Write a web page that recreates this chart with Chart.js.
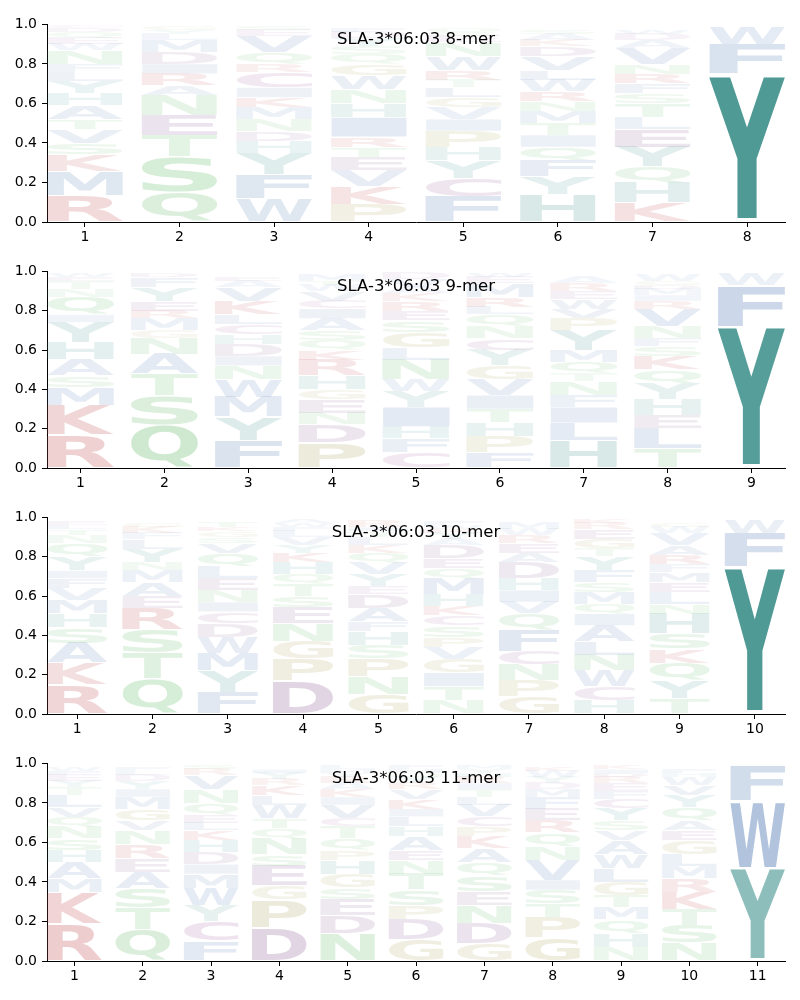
<!DOCTYPE html>
<html>
<head>
<meta charset="utf-8">
<script src="https://cdn.jsdelivr.net/npm/chart.js@4.4.1/dist/chart.umd.min.js"></script>
<style>
  body { margin: 0; background: #fff; }
  .panel { position: absolute; left: 0; width: 800px; }
</style>
</head>
<body>
<div class="panel" style="top:11px"><canvas id="logo8" width="800" height="241"></canvas></div>
<div class="panel" style="top:258px"><canvas id="logo9" width="800" height="240"></canvas></div>
<div class="panel" style="top:504px"><canvas id="logo10" width="800" height="240"></canvas></div>
<div class="panel" style="top:750px"><canvas id="logo11" width="800" height="241"></canvas></div>
<script>
// letters per position, bottom to top, with their heights
const titles = ['SLA-3*06:03 8-mer', 'SLA-3*06:03 9-mer', 'SLA-3*06:03 10-mer', 'SLA-3*06:03 11-mer'];

const letters8 = ['RMKSVTAHYLFNWEQDC', 'QSTENARIDMLYG', 'WFYHDNMKICRQVES', 'PKVETRIHNWGQSYDF',
                  'FCYHPIVGLTRWNESQ', 'HYFQITMNRWLVDKAS', 'KHQYELTSFRNVADW', 'YFW'];
const heights8 = [
    [.135, .12, .085, .06, .07, .05, .07, .06, .06, .05, .04, .07, .03, .03, .03, .02, .01],
    [.15, .18, .11, .10, .10, .05, .06, .05, .06, .06, .03, .02, .02],
    [.12, .12, .11, .06, .05, .06, .06, .05, .05, .08, .04, .06, .08, .03, .02],
    [.09, .09, .08, .07, .05, .05, .10, .07, .07, .07, .06, .05, .04, .04, .03, .02],
    [.13, .09, .09, .07, .08, .06, .06, .05, .05, .04, .05, .07, .07, .03, .02, .02],
    [.14, .09, .08, .07, .06, .06, .06, .05, .05, .06, .05, .07, .05, .03, .03, .02],
    [.10, .10, .08, .10, .09, .06, .07, .05, .05, .05, .05, .08, .04, .03, .02],
    [.75, .15, .09]
];

const letters9 = ['RKMSAHYIQNTEW', 'QSTANGMREYFD', 'FYMWNIDHCLKVAE', 'PDNEGHRKQSAICVWTM',
                  'CFHIYWNLGSERKAVD', 'FPHTIVGYCNQLRMEW', 'HLIFNTQMYPVWERA', 'TLEHYQKSFNVRIMDGW', 'YFW'];
const heights9 = [
    [.17, .15, .09, .06, .08, .09, .10, .04, .09, .04, .04, .02, .02],
    [.22, .15, .11, .10, .08, .04, .06, .04, .05, .07, .05, .02],
    [.14, .12, .10, .09, .07, .05, .06, .05, .05, .05, .07, .07, .03, .02],
    [.13, .09, .06, .07, .05, .07, .08, .05, .05, .05, .06, .05, .04, .05, .03, .02, .03],
    [.08, .07, .06, .10, .08, .06, .10, .06, .08, .06, .05, .05, .04, .03, .04, .03],
    [.08, .08, .07, .07, .07, .08, .07, .08, .06, .06, .06, .04, .05, .07, .03, .02],
    [.14, .09, .08, .06, .07, .04, .06, .06, .10, .06, .05, .05, .04, .04, .03],
    [.10, .10, .07, .08, .08, .07, .07, .05, .04, .06, .09, .04, .03, .03, .02, .02, .03],
    [.72, .21, .06]
];

const letters10 = ['RKASHMVFIYQNTLE', 'QTSREAMNYLFKG', 'FYMWDCINELQVSGKT', 'DPGNESTQHKYVLFWA',
                   'GNPSHFADEYVQKLTIR', 'NTIGVPSCKHMQEDAYRWF', 'GPNCFQVIHDAERWM', 'HCWNLAIQMSFYTGERK',
                   'TYQKSHNLEMFRAVWG', 'YFW'];
const heights10 = [
    [.15, .11, .10, .08, .07, .07, .06, .05, .04, .07, .07, .04, .03, .02, .02],
    [.18, .13, .12, .11, .06, .07, .06, .04, .07, .05, .03, .03, .02],
    [.11, .11, .09, .08, .07, .06, .05, .06, .06, .06, .07, .05, .03, .03, .02, .03],
    [.17, .11, .09, .09, .08, .06, .06, .05, .06, .05, .04, .04, .03, .02, .02, .02],
    [.10, .09, .09, .07, .07, .05, .07, .07, .04, .06, .06, .05, .04, .04, .03, .02, .03],
    [.07, .07, .07, .07, .06, .05, .06, .05, .05, .06, .08, .05, .05, .07, .03, .03, .02, .02, .02],
    [.09, .08, .08, .07, .11, .08, .06, .06, .06, .08, .05, .05, .04, .03, .03],
    [.07, .07, .08, .08, .07, .08, .06, .05, .06, .05, .06, .07, .04, .05, .05, .03, .02],
    [.08, .09, .09, .07, .08, .10, .05, .06, .05, .05, .04, .05, .05, .06, .03, .02],
    [.75, .17, .07]
];

const letters11 = ['RKMAHSNQVLTYEFW', 'QTSAERNVGMIYDLF', 'FCYWMIDHKLEQNVRS', 'DPGESNQTWLKRYI',
                   'NDESGHPQTCVIKARYML', 'GDPSTNEAHLIKVRYQMF', 'GDNESQAKPCVLTIRHYM', 'GPTSIVNQREFMDYWK',
                   'NHQMTGLWAVSYCFERDIK', 'NSTKRMLGEAQYVWHF', 'YWF'];
const heights11 = [
    [.19, .16, .07, .08, .06, .06, .06, .05, .05, .06, .04, .03, .03, .02, .02],
    [.16, .11, .10, .08, .07, .07, .07, .05, .06, .06, .04, .04, .03, .02, .02],
    [.10, .10, .08, .09, .07, .05, .06, .06, .05, .04, .04, .06, .07, .07, .03, .02],
    [.17, .14, .07, .10, .06, .08, .05, .05, .07, .05, .05, .03, .03, .02],
    [.14, .09, .08, .06, .07, .07, .05, .06, .06, .04, .07, .04, .04, .03, .03, .02, .02, .02],
    [.11, .10, .07, .08, .08, .07, .05, .07, .05, .05, .04, .05, .05, .03, .03, .02, .02, .02],
    [.09, .10, .09, .07, .08, .07, .07, .06, .05, .05, .06, .04, .04, .03, .03, .02, .02, .02],
    [.12, .10, .07, .07, .05, .10, .07, .07, .06, .06, .06, .04, .03, .03, .03, .02],
    [.07, .07, .07, .06, .06, .07, .07, .07, .07, .05, .05, .06, .05, .04, .04, .03, .02, .02, .02],
    [.09, .09, .08, .09, .07, .06, .06, .07, .05, .05, .07, .06, .05, .04, .02, .02],
    [.47, .34, .18]
];

const aminoAcids = 'ACDEFGHIKLMNPQRSTVWY'.split('');
const residueRgb = {
    A: [90, 128, 184], V: [90, 128, 184], L: [90, 128, 184], I: [90, 128, 184],
    M: [90, 128, 184], F: [90, 128, 184], W: [90, 128, 184],
    Y: [80, 154, 150], H: [80, 154, 150],
    R: [196, 78, 82], K: [196, 78, 82],
    S: [102, 187, 106], T: [102, 187, 106], Q: [102, 187, 106], N: [102, 187, 106],
    D: [138, 90, 148], E: [138, 90, 148], C: [154, 90, 154],
    P: [170, 160, 85], G: [170, 160, 85]
};

Chart.defaults.font.family = '"DejaVu Sans", sans-serif';
Chart.defaults.color = '#000';

function glyphColor(aa, h) {
    const a = Math.min(1, 0.04 + h / 0.78);
    const c = residueRgb[aa];
    return `rgba(${c[0]},${c[1]},${c[2]},${a.toFixed(3)})`;
}

function drawGlyph(ctx, ch, left, top, w, h, color) {
    const pad = h * 0.022;
    top += pad;
    h -= 2 * pad;
    ctx.save();
    ctx.font = 'bold 200px "DejaVu Sans"';
    ctx.textAlign = 'left';
    ctx.textBaseline = 'alphabetic';
    const m = ctx.measureText(ch);
    const gl = -m.actualBoundingBoxLeft, gr = m.actualBoundingBoxRight;
    const gt = -m.actualBoundingBoxAscent, gb = m.actualBoundingBoxDescent;
    ctx.translate(left, top);
    ctx.scale(w / (gr - gl), h / (gb - gt));
    ctx.translate(-gl, -gt);
    ctx.fillStyle = color;
    ctx.fillText(ch, 0, 0);
    ctx.restore();
}

// paints each letter into the rectangle of its (invisible) floating bar
const logoGlyphs = {
    id: 'logoGlyphs',
    afterDatasetsDraw(chart) {
        const ctx = chart.ctx;
        chart.data.datasets.forEach((ds, di) => {
            chart.getDatasetMeta(di).data.forEach((bar, j) => {
                const { x, y, base, width } = bar.getProps(['x', 'y', 'base', 'width'], true);
                const range = ds.data[j].y;
                drawGlyph(ctx, ds.label, x - width / 2, Math.min(y, base), width,
                          Math.abs(base - y), glyphColor(ds.label, range[1] - range[0]));
            });
        });
    },
    afterDraw(chart) {
        const { ctx, chartArea } = chart;
        ctx.save();
        ctx.font = '16.5px "DejaVu Sans"';
        ctx.fillStyle = '#000';
        ctx.textAlign = 'center';
        ctx.textBaseline = 'middle';
        ctx.fillText(chart.options.plugins.logoTitle, (chartArea.left + chartArea.right) / 2, chartArea.top + 15);
        ctx.restore();
    }
};

function renderLogo(canvasId, title, letters, heights) {
    const n = letters.length;
    const datasets = aminoAcids.map(aa => {
        const data = [];
        letters.forEach((col, i) => {
            let bottom = 0;
            for (let k = 0; k < col.length; k++) {
                if (col[k] === aa) data.push({ x: i + 1, y: [bottom, bottom + heights[i][k]] });
                bottom += heights[i][k];
            }
        });
        return {
            label: aa,
            data: data,
            backgroundColor: 'rgba(0,0,0,0)',
            borderWidth: 0,
            grouped: false,
            categoryPercentage: 1,
            barPercentage: 0.8
        };
    });

    new Chart(document.getElementById(canvasId), {
        type: 'bar',
        data: { datasets: datasets },
        options: {
            responsive: false,
            animation: false,
            events: [],
            layout: { padding: { top: 10, right: 15, left: 0, bottom: 0 } },
            plugins: { legend: { display: false }, tooltip: { enabled: false }, logoTitle: title },
            scales: {
                x: {
                    type: 'linear',
                    min: 0.6,
                    max: n + 0.4,
                    offset: false,
                    afterFit: s => { s.height = 30; },
                    grid: { display: true, offset: false, drawOnChartArea: false, tickLength: 5, tickColor: '#000' },
                    border: { display: true, color: '#000', width: 1 },
                    ticks: { stepSize: 1, includeBounds: false, padding: 2, maxRotation: 0, autoSkip: false,
                             font: { size: 14 }, callback: v => String(v) }
                },
                y: {
                    min: 0,
                    max: 1,
                    afterFit: s => { s.width = 47; },
                    grid: { display: true, drawOnChartArea: false, tickLength: 5, tickColor: '#000' },
                    border: { display: true, color: '#000', width: 1 },
                    ticks: { stepSize: 0.2, padding: 5, font: { size: 14 }, callback: v => v.toFixed(1) }
                }
            }
        },
        plugins: [logoGlyphs]
    });
}

renderLogo('logo8', titles[0], letters8, heights8);
renderLogo('logo9', titles[1], letters9, heights9);
renderLogo('logo10', titles[2], letters10, heights10);
renderLogo('logo11', titles[3], letters11, heights11);
</script>
</body>
</html>
